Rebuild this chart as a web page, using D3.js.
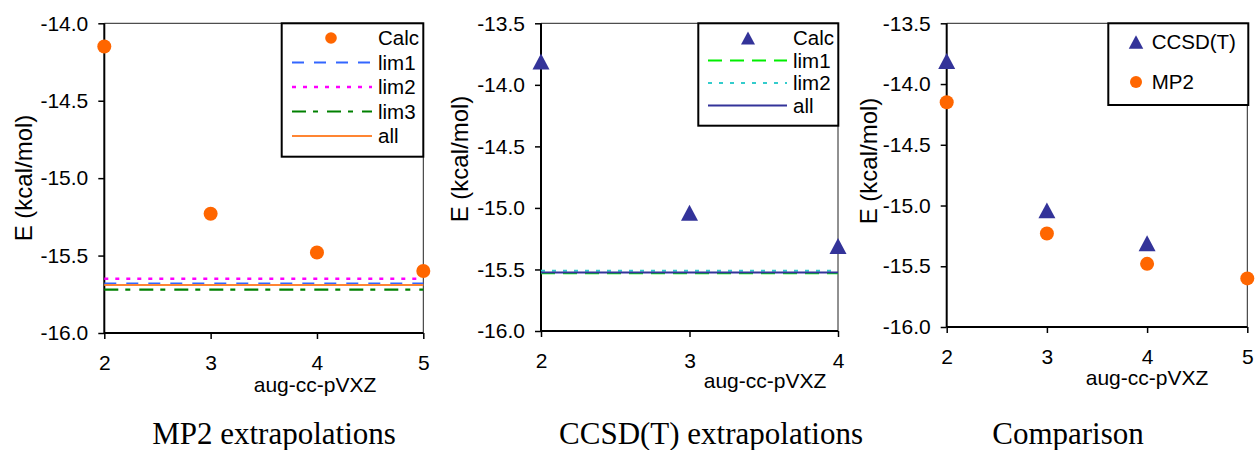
<!DOCTYPE html>
<html>
<head>
<meta charset="utf-8">
<script src="https://cdn.jsdelivr.net/npm/d3@7"></script>
<style>
  body { margin: 0; background: #fff; }
  svg text { font-family: "Liberation Sans", Arial, sans-serif; fill: #000; }
  .caption { font-family: "Liberation Serif", "Times New Roman", serif; font-size: 31px; }
</style>
</head>
<body>
<div class="container"></div>
<script>
// ---------- DATA ----------
var mp2Basis = [2, 3, 4, 5]
var mp2Calc = [-14.15, -15.23, -15.48, -15.60]
var mp2LimNames = ["lim1", "lim2", "lim3", "all"]
var mp2LimValues = [-15.68, -15.65, -15.72, -15.69]

var ccsdBasis = [2, 3, 4]
var ccsdCalc = [-13.81, -15.04, -15.31]
var ccsdLimNames = ["lim1", "lim2", "all"]
var ccsdLimValues = [-15.53, -15.51, -15.525]

var yTicks1 = [-16.0, -15.5, -15.0, -14.5, -14.0]
var yTicks2 = [-16.0, -15.5, -15.0, -14.5, -14.0, -13.5]
var xTitle = "aug-cc-pVXZ"
var yTitle = "E (kcal/mol)"
var captions = ["MP2 extrapolations", "CCSD(T) extrapolations", "Comparison"]

// ---------- STYLES ----------
var orange = "#ff6600"
var navy = "#333399"
var lineStyle = {
  mp2: {
    lim1: { color: "#3366ff", dash: "12,10", width: 2 },
    lim2: { color: "#ff00ff", dash: "4,7", width: 2.6 },
    lim3: { color: "#008000", dash: "14,7,5,9", width: 2.2 },
    all:  { color: "#ff8533", dash: null, width: 2 }
  },
  ccsd: {
    lim1: { color: "#00ee00", dash: "14,8", width: 2 },
    lim2: { color: "#33cccc", dash: "4,7", width: 2 },
    all:  { color: navy, dash: null, width: 2 }
  }
}

// triangle centred on its bounding box, like the spreadsheet marker
var boxTriangle = {
  draw: function (ctx, size) {
    var w = size, h = size * 0.94
    ctx.moveTo(0, -h / 2)
    ctx.lineTo(w / 2, h / 2)
    ctx.lineTo(-w / 2, h / 2)
    ctx.closePath()
  }
}

var svg = d3.select(".container").append("svg")
    .attr("width", 1256)
    .attr("height", 450)

function panel(opt) {
  var g = svg.append("g")
  var x = d3.scaleLinear().domain(opt.xDomain).range([opt.left, opt.right])
  var y = d3.scaleLinear().domain(opt.yDomain).range([opt.bottom, opt.top])

  // frame: thin top / right
  g.append("path")
    .attr("d", "M" + opt.left + "," + opt.top + "H" + opt.right + "V" + opt.bottom)
    .attr("fill", "none")
    .attr("stroke", "#222")
    .attr("stroke-width", 1)

  var yAxis = g.append("g")
    .attr("transform", "translate(" + opt.left + ",0)")
    .call(d3.axisLeft(y).tickValues(opt.yTicks).tickSize(6).tickPadding(10)
      .tickFormat(function (d) { return d.toFixed(1) }))
  var xAxis = g.append("g")
    .attr("transform", "translate(0," + opt.bottom + ")")
    .call(d3.axisBottom(x).tickValues(opt.xTicks).tickSize(6).tickPadding(16)
      .tickFormat(function (d) { return d }))

  g.selectAll(".domain").attr("stroke", "#000").attr("stroke-width", 2)
  g.selectAll(".tick line").attr("stroke", "#000").attr("stroke-width", 1.5)
  g.selectAll(".tick text").attr("font-size", 21).attr("font-family", "Liberation Sans, Arial, sans-serif")
  // plain axis lines, no outer caps
  yAxis.select(".domain").attr("d", "M0," + opt.bottom + "V" + opt.top)
  xAxis.select(".domain").attr("d", "M" + opt.left + ",0H" + opt.right)

  g.append("text")
    .attr("transform", "translate(" + opt.yTitleX + "," + opt.yTitleY + ") rotate(-90)")
    .attr("text-anchor", "middle")
    .attr("font-size", 24)
    .text(yTitle)

  g.append("text")
    .attr("x", opt.xTitleX)
    .attr("y", opt.xTitleY)
    .attr("text-anchor", "middle")
    .attr("font-size", 21)
    .text(xTitle)

  g.append("text")
    .attr("class", "caption")
    .attr("x", opt.captionX)
    .attr("y", 444)
    .attr("text-anchor", "middle")
    .text(opt.caption)

  return { g: g, x: x, y: y }
}

function limitLines(p, names, values, styles) {
  p.g.append("g").selectAll("line")
    .data(names)
    .enter().append("line")
    .attr("x1", p.x.range()[0])
    .attr("x2", p.x.range()[1])
    .attr("y1", function (d, i) { return p.y(values[i]) })
    .attr("y2", function (d, i) { return p.y(values[i]) })
    .attr("stroke", function (d) { return styles[d].color })
    .attr("stroke-width", function (d) { return styles[d].width })
    .attr("stroke-dasharray", function (d) { return styles[d].dash })
}

function circles(p, xs, ys, r) {
  p.g.append("g").selectAll("circle")
    .data(xs)
    .enter().append("circle")
    .attr("cx", function (d) { return p.x(d) })
    .attr("cy", function (d, i) { return p.y(ys[i]) })
    .attr("r", r)
    .attr("fill", orange)
}

function triangles(p, xs, ys, size) {
  p.g.append("g").selectAll("path")
    .data(xs)
    .enter().append("path")
    .attr("d", d3.symbol().type(boxTriangle).size(size))
    .attr("transform", function (d, i) { return "translate(" + p.x(d) + "," + p.y(ys[i]) + ")" })
    .attr("fill", navy)
}

function legendBox(g, box) {
  g.append("rect")
    .attr("x", box[0]).attr("y", box[1])
    .attr("width", box[2] - box[0]).attr("height", box[3] - box[1])
    .attr("fill", "#fff")
    .attr("stroke", "#000")
    .attr("stroke-width", 2)
}

function lineLegend(g, opt, names, styles, marker) {
  legendBox(g, opt.box)
  var rows = ["Calc"].concat(names)
  rows.forEach(function (name, i) {
    var base = opt.firstBase + i * opt.step
    var cy = base - 7
    if (i === 0) {
      if (marker === "circle") {
        g.append("circle").attr("cx", opt.markX).attr("cy", cy).attr("r", 5.8).attr("fill", orange)
      } else {
        g.append("path").attr("d", d3.symbol().type(boxTriangle).size(14))
          .attr("transform", "translate(" + opt.markX + "," + cy + ")").attr("fill", navy)
      }
    } else {
      g.append("line")
        .attr("x1", opt.lineX0).attr("x2", opt.lineX1)
        .attr("y1", cy).attr("y2", cy)
        .attr("stroke", styles[name].color)
        .attr("stroke-width", styles[name].width)
        .attr("stroke-dasharray", styles[name].dash)
    }
    g.append("text").attr("x", opt.textX).attr("y", base).attr("font-size", 20.5).text(name)
  })
}

// ---------- MP2 ----------
var p1 = panel({
  xDomain: [2, 5], yDomain: [-16, -14], xTicks: mp2Basis, yTicks: yTicks1,
  left: 104.3, right: 423.3, top: 23.3, bottom: 333,
  yTitleX: 32, yTitleY: 178, xTitleX: 315, xTitleY: 392,
  captionX: 274, caption: captions[0]
})
limitLines(p1, mp2LimNames, mp2LimValues, lineStyle.mp2)
circles(p1, mp2Basis, mp2Calc, 7)
lineLegend(p1.g, {
  box: [281.7, 23.3, 423.3, 156.7], firstBase: 45, step: 24.5,
  markX: 331, lineX0: 292, lineX1: 372, textX: 378
}, ["lim1", "lim2", "lim3", "all"], lineStyle.mp2, "circle")

// ---------- CCSD(T) ----------
var p2 = panel({
  xDomain: [2, 4], yDomain: [-16, -13.5], xTicks: ccsdBasis, yTicks: yTicks2,
  left: 541, right: 838, top: 23.3, bottom: 331,
  yTitleX: 468, yTitleY: 159, xTitleX: 765, xTitleY: 388,
  captionX: 711, caption: captions[1]
})
limitLines(p2, ccsdLimNames, ccsdLimValues, lineStyle.ccsd)
triangles(p2, ccsdBasis, ccsdCalc, 17)
lineLegend(p2.g, {
  box: [698.3, 23.3, 838.3, 125.7], firstBase: 45, step: 22.5,
  markX: 748, lineX0: 708, lineX1: 787, textX: 793
}, ["lim1", "lim2", "all"], lineStyle.ccsd, "triangle")

// ---------- COMPARISON ----------
var p3 = panel({
  xDomain: [2, 5], yDomain: [-16, -13.5], xTicks: mp2Basis, yTicks: yTicks2,
  left: 946.7, right: 1247.3, top: 23.3, bottom: 327,
  yTitleX: 877, yTitleY: 161, xTitleX: 1147, xTitleY: 385,
  captionX: 1068, caption: captions[2]
})
triangles(p3, ccsdBasis, ccsdCalc, 17)
circles(p3, mp2Basis, mp2Calc, 7)

legendBox(p3.g, [1108.3, 23.3, 1248.3, 105])
p3.g.append("path").attr("d", d3.symbol().type(boxTriangle).size(14.5))
  .attr("transform", "translate(1136,42)").attr("fill", navy)
p3.g.append("text").attr("x", 1151.7).attr("y", 49).attr("font-size", 20.5).text("CCSD(T)")
p3.g.append("circle").attr("cx", 1136).attr("cy", 82).attr("r", 6).attr("fill", orange)
p3.g.append("text").attr("x", 1151.7).attr("y", 89).attr("font-size", 20.5).text("MP2")
</script>
</body>
</html>
